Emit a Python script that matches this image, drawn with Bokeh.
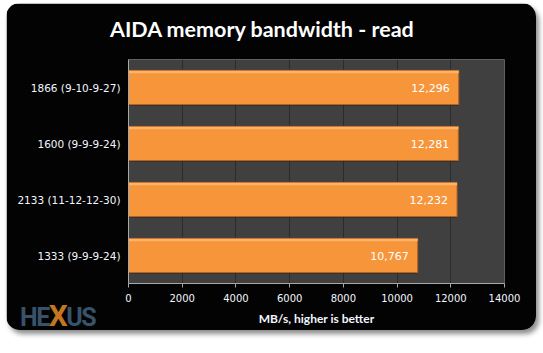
from bokeh.plotting import figure
from bokeh.models import ColumnDataSource, FactorRange, FixedTicker, Range1d, Div
from bokeh.layouts import column
from bokeh.core.properties import value
from bokeh.transform import dodge
from bokeh.embed import file_html
from bokeh.resources import INLINE

# ---- data ----
categories = ["1866 (9-10-9-27)", "1600 (9-9-9-24)", "2133 (11-12-12-30)", "1333 (9-9-9-24)"]
read_mbps = [12296, 12281, 12232, 10767]
value_labels = ["12,296", "12,281", "12,232", "10,767"]
x_ticks = [0, 2000, 4000, 6000, 8000, 10000, 12000, 14000]
title_text = "AIDA memory bandwidth - read"
x_title = "MB/s, higher is better"

src = ColumnDataSource(dict(cat=categories, val=read_mbps, lab=value_labels))

p = figure(
    width=530, height=327,
    y_range=FactorRange(*reversed(categories)),
    x_range=Range1d(0, 14000),
    output_backend="svg", toolbar_location=None,
    min_border_left=122, min_border_right=32, min_border_top=56, min_border_bottom=47,
    background_fill_color="#404040",
    border_fill_color="#030303",
    outline_line_color=None,
    margin=(3, 7, 0, 6),
    styles={"border-radius": "14px", "overflow": "hidden",
            "box-shadow": "3px 4px 5px rgba(0,0,0,0.45)"},
)

# grid
p.ygrid.grid_line_color = None
p.xgrid.grid_line_color = "#2c2c2c"
p.xgrid.grid_line_width = 1

# bars: shadow, body, highlight
p.hbar(y=dodge("cat", -0.02, range=p.y_range), right="val", left=0, height=0.61, source=src,
       fill_color="#000000", fill_alpha=0.35, line_color=None)
p.hbar(y="cat", right="val", left=0, height=0.61, source=src,
       fill_color="#f7953b", line_color="#b9621e", line_width=1)
p.hbar(y=dodge("cat", 0.275, range=p.y_range), right="val", left=0, height=0.045, source=src,
       fill_color="#fbb46a", line_color=None)

p.text(x="val", y="cat", text="lab", source=src, x_offset=-9,
       text_align="right", text_baseline="middle", text_color="#ffffff",
       text_font=value("DejaVu Sans"), text_font_size="11px")

# axes
xa = p.xaxis[0]
xa.ticker = FixedTicker(ticks=x_ticks)
xa.axis_line_color = "#a8a8a8"
xa.major_tick_line_color = "#a8a8a8"
xa.major_tick_out = 4
xa.major_tick_in = 0
xa.minor_tick_line_color = None
xa.major_label_text_color = "#f2f6ff"
xa.major_label_text_font = "DejaVu Sans"
xa.major_label_text_font_size = "10px"
xa.major_label_standoff = 6
xa.axis_label = x_title
xa.axis_label_text_color = "#f2f6ff"
xa.axis_label_text_font = "Lato"
xa.axis_label_text_font_style = "bold"
xa.axis_label_text_font_size = "12px"
xa.axis_label_standoff = 6

ya = p.yaxis[0]
ya.axis_line_color = "#a8a8a8"
ya.major_tick_out = 0
ya.major_tick_in = 0
ya.minor_tick_line_color = None
ya.major_label_text_color = "#f2f6ff"
ya.major_label_text_font = "DejaVu Sans"
ya.major_label_text_font_size = "10.5px"
ya.major_label_standoff = 8

# HEXUS watermark as an HTML overlay
logo = Div(
    text=('<span style="font-family:Roboto;font-weight:bold;font-size:25px;'
          'color:#38526a;letter-spacing:-1.5px;line-height:28px">HE'
          '<span style="color:#c4761f;font-size:30px">X</span>US</span>'),
    width=100, height=28, margin=(-28, 0, 0, 20),
    styles={"position": "relative", "z-index": "5"},
)

# chart title as an HTML overlay
title = Div(
    text=('<span style="font-family:Lato;font-weight:bold;font-size:21.5px;'
          'color:#ffffff;line-height:26px;white-space:nowrap">' + title_text + '</span>'),
    width=320, height=26, margin=(16 - 330, 0, 0, 110),
    styles={"position": "relative", "z-index": "5"},
)

layout = column(p, logo, title, spacing=0)
open("out.html", "w").write(file_html(layout, INLINE))
